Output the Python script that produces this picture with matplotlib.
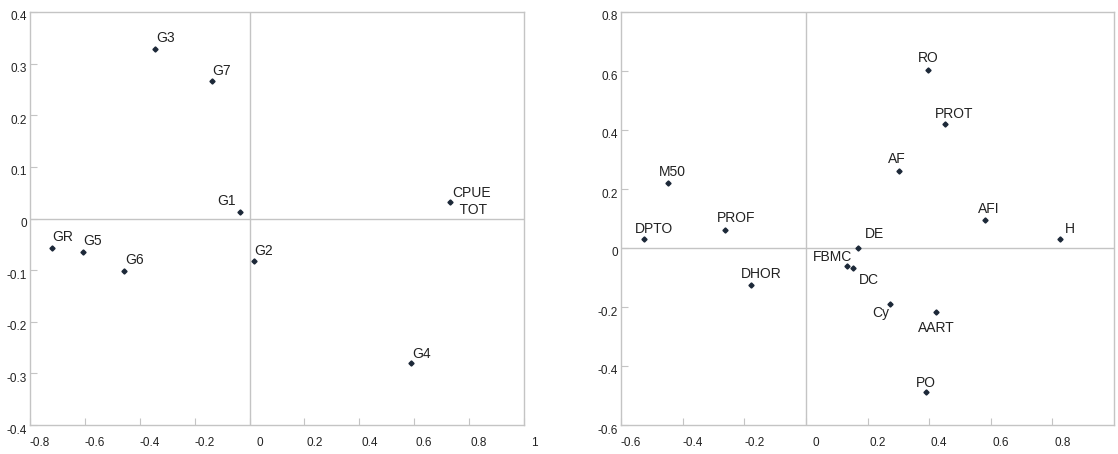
import matplotlib
matplotlib.use("Agg")
import matplotlib.pyplot as plt
import matplotlib.transforms as mtransforms
import numpy as np

plt.rcParams['font.family'] = ['Liberation Sans', 'DejaVu Sans']

# left panel: groups
grp_labels = ["G3", "G7", "G1", "GR", "G5", "G6", "G2", "CPUE\n TOT", "G4"]
grp_x = [-0.345, -0.136, -0.033, -0.719, -0.608, -0.457, 0.015, 0.731, 0.589]
grp_y = [0.328, 0.266, 0.013, -0.057, -0.064, -0.101, -0.082, 0.031, -0.279]

# right panel: variables
var_labels = ["M50", "PROF", "DPTO", "DHOR", "FBMC", "DC", "DE", "RO", "PROT",
              "AF", "AFI", "H", "Cy", "AART", "PO"]
var_x = [-0.447, -0.263, -0.526, -0.179, 0.134, 0.152, 0.168, 0.397, 0.451,
         0.301, 0.580, 0.825, 0.273, 0.422, 0.391]
var_y = [0.221, 0.062, 0.029, -0.127, -0.061, -0.068, 0.0, 0.604, 0.420,
         0.262, 0.096, 0.031, -0.189, -0.218, -0.489]

# label placement (pixels offset, alignment)
grp_pos = {
    "G3": (1, 11, "left"), "G7": (0, 10, "left"), "G1": (-5, 11, "right"),
    "GR": (0, 11, "left"), "G5": (1, 11, "left"), "G6": (1, 11, "left"),
    "G2": (1, 10, "left"), "CPUE\n TOT": (21, 1, "center"), "G4": (1, 9, "left"),
}
var_pos = {
    "M50": (-9, 11, "left"), "PROF": (-8, 12, "left"), "DPTO": (-9, 10, "left"),
    "DHOR": (-10, 11, "left"), "FBMC": (5, 9, "right"), "DC": (6, -12, "left"),
    "DE": (7, 14, "left"), "RO": (-10, 12, "left"), "PROT": (-10, 10, "left"),
    "AF": (-11, 12, "left"), "AFI": (-7, 11, "left"), "H": (5, 10, "left"),
    "Cy": (-1, -9, "right"), "AART": (-18, -16, "left"), "PO": (-10, 9, "left"),
}

fig = plt.figure(figsize=(11.18, 4.54), dpi=100)
ax1 = fig.add_axes([30 / 1118, 29 / 454, 494 / 1118, 413 / 454])
ax2 = fig.add_axes([621 / 1118, 29 / 454, 493 / 1118, 413 / 454])

grid_col = "#c4c4c4"
pt_col = "#1c2838"


def fmt(t):
    return "%g" % (round(t, 2) + 0.0)


def style(ax, xlim, ylim, xticks, yticks):
    ax.set_xlim(*xlim)
    ax.set_ylim(*ylim)
    ax.axhline(0, color=grid_col, lw=1, zorder=1)
    ax.axvline(0, color=grid_col, lw=1, zorder=1)
    xticks = [round(t, 2) + 0.0 for t in xticks]
    yticks = [round(t, 2) + 0.0 for t in yticks]
    ax.set_xticks(xticks)
    ax.set_yticks(yticks)
    ax.set_xticklabels([fmt(t) for t in xticks])
    ax.set_yticklabels([fmt(t) for t in yticks])
    ax.tick_params(direction="in", length=5, color=grid_col, labelsize=8.5,
                   labelcolor="#222222")
    ax.tick_params(axis="x", pad=9)
    ax.tick_params(axis="y", pad=2)
    for s in ax.spines.values():
        s.set_color(grid_col)
        s.set_linewidth(1)
    dx = mtransforms.ScaledTranslation(10 / 100, 0, fig.dpi_scale_trans)
    for lab in ax.get_xticklabels():
        lab.set_transform(lab.get_transform() + dx)
    dy = mtransforms.ScaledTranslation(0, -4 / 100, fig.dpi_scale_trans)
    for lab in ax.get_yticklabels():
        lab.set_transform(lab.get_transform() + dy)


def draw_points(ax, xs, ys, labels, pos):
    ax.plot(xs, ys, linestyle="none", marker="D", markersize=2.6, color=pt_col, zorder=3)
    for x, y, lab in zip(xs, ys, labels):
        ox, oy, ha = pos[lab]
        ax.annotate(lab, (x, y), xytext=(ox, oy), textcoords="offset pixels",
                    ha=ha, va="center", multialignment="center",
                    fontsize=10, color="#222222")


style(ax1, (-0.8, 1.0), (-0.4, 0.4), np.arange(-0.8, 1.01, 0.2), np.arange(-0.4, 0.41, 0.1))
draw_points(ax1, grp_x, grp_y, grp_labels, grp_pos)

style(ax2, (-0.6, 1.0), (-0.6, 0.8), np.arange(-0.6, 0.81, 0.2), np.arange(-0.6, 0.81, 0.2))
draw_points(ax2, var_x, var_y, var_labels, var_pos)

fig.savefig("out.png", dpi=100)
